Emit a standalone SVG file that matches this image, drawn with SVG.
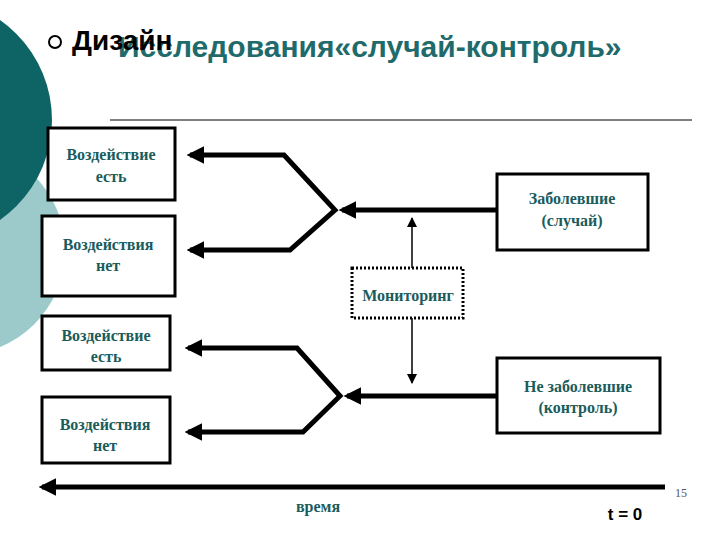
<svg xmlns="http://www.w3.org/2000/svg" width="720" height="540" viewBox="0 0 720 540">
<defs>
<marker id="ah" viewBox="0 0 10 10" refX="8" refY="5" markerWidth="3.5" markerHeight="3.5" orient="auto-start-reverse"><path d="M0,0 L10,5 L0,10 Z" fill="#000"/></marker>
<marker id="ah2" viewBox="0 0 10 10" refX="9" refY="5" markerWidth="7" markerHeight="7" orient="auto"><path d="M0,0 L10,5 L0,10 Z" fill="#000"/></marker>
<style>
.box{fill:#fff;stroke:#000;stroke-width:3}
.t{font-family:"Liberation Serif",serif;font-weight:bold;font-size:16px;fill:#1a5c5c;text-anchor:middle}
.th{fill:none;stroke:#000;stroke-width:5}
.tn{fill:none;stroke:#000;stroke-width:1.5}
</style>
</defs>
<rect width="720" height="540" fill="#fff"/>
<circle cx="-40" cy="250" r="105" fill="#9ccaca"/>
<circle cx="-70" cy="120" r="122" fill="#0e6464"/>
<circle cx="55" cy="42" r="6" fill="none" stroke="#000" stroke-width="2"/>
<text x="118" y="57" font-family="Liberation Sans,sans-serif" font-weight="bold" font-size="30" fill="#1f6b6b">Исследования«случай-контроль»</text>
<text x="72" y="50" font-family="Liberation Sans,sans-serif" font-weight="bold" font-size="28" fill="#000">Дизайн</text>
<line x1="110" y1="120" x2="692" y2="120" stroke="#000" stroke-width="1"/>
<g id="connectors">
<path class="th" d="M190,155 H284 L335,210 L290,250 H190" marker-start="url(#ah)" marker-end="url(#ah)"/>
<path class="th" d="M497,210 H342" marker-end="url(#ah)"/>
<path class="tn" d="M412,268 V218" marker-end="url(#ah2)"/>
<path class="th" d="M188,348 H297 L340,396 L303,432 H188" marker-start="url(#ah)" marker-end="url(#ah)"/>
<path class="th" d="M497,396 H347" marker-end="url(#ah)"/>
<path class="tn" d="M412,318 V383" marker-end="url(#ah2)"/>
<path class="th" d="M665,487 H42" marker-end="url(#ah)"/>
</g>
<g id="n1"><rect class="box" x="48" y="128" width="127" height="72"/><text class="t" x="111" y="160">Воздействие</text><text class="t" x="111" y="182">есть</text></g>
<g id="n2"><rect class="box" x="42" y="216" width="133" height="80"/><text class="t" x="108" y="250">Воздействия</text><text class="t" x="108" y="271">нет</text></g>
<g id="n3"><rect class="box" x="497" y="174" width="151" height="76"/><text class="t" x="572" y="204">Заболевшие</text><text class="t" x="572" y="226">(случай)</text></g>
<g id="n4"><rect x="352" y="268" width="111" height="50" fill="#fff" stroke="#000" stroke-width="3" stroke-dasharray="2,2"/><text class="t" x="408" y="301">Мониторинг</text></g>
<g id="n5"><rect class="box" x="42" y="316" width="128" height="54"/><text class="t" x="106" y="341">Воздействие</text><text class="t" x="106" y="362">есть</text></g>
<g id="n6"><rect class="box" x="42" y="397" width="128" height="66"/><text class="t" x="105" y="430">Воздействия</text><text class="t" x="105" y="451">нет</text></g>
<g id="n7"><rect class="box" x="497" y="358" width="163" height="75"/><text class="t" x="578" y="392">Не заболевшие</text><text class="t" x="578" y="413">(контроль)</text></g>
<text class="t" x="318" y="512">время</text>
<text x="625" y="520" font-family="Liberation Sans,sans-serif" font-weight="bold" font-size="17" text-anchor="middle">t = 0</text>
<text x="675" y="497" font-family="Liberation Serif,serif" font-size="12" fill="#555">15</text>
</svg>
